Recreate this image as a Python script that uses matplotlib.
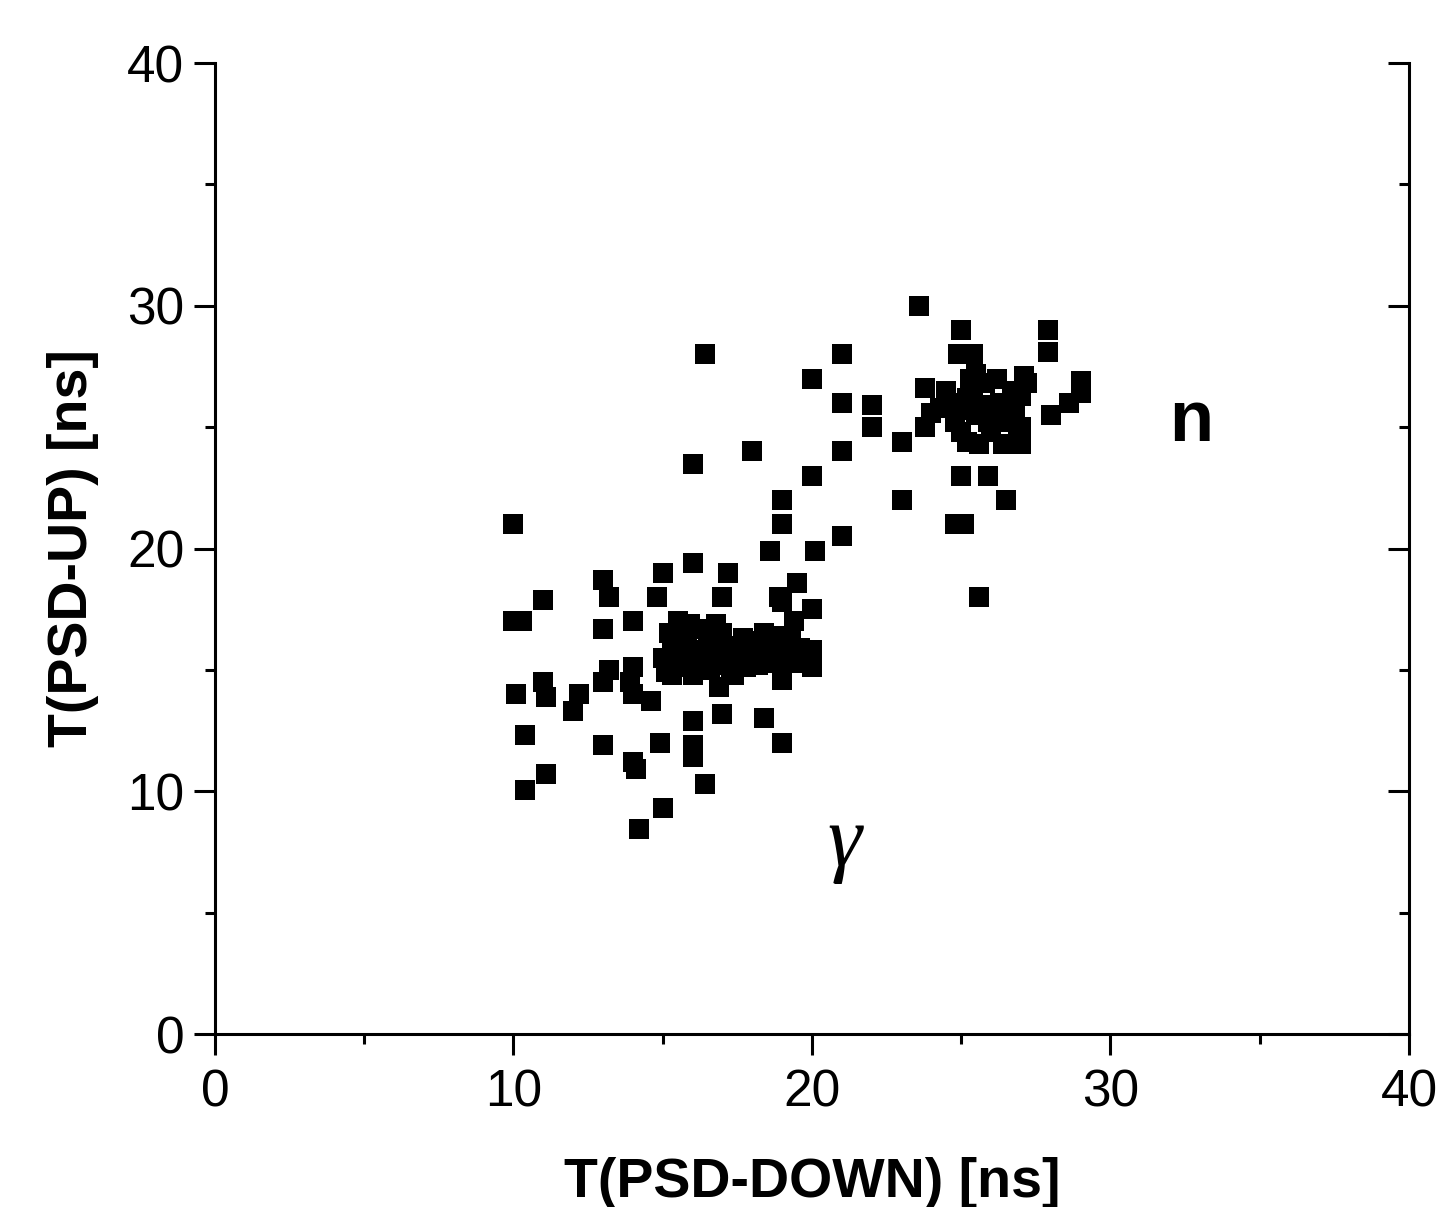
import matplotlib
matplotlib.use("Agg")
import matplotlib.pyplot as plt
from matplotlib.ticker import MultipleLocator

plt.rcParams['font.family'] = ['Liberation Sans', 'DejaVu Sans']

# Scattered gamma-region points (x, y)
gamma_x = [10, 10, 10.3, 11, 10.1, 11, 11.1, 10.4, 10.4, 11.1, 12.0, 12.2, 13, 13.2, 13, 13, 13, 13.2,
           14, 14.0, 14.0, 13.9, 14, 14.1, 14.2, 14.8, 15, 14.9, 15, 16, 16, 16, 16, 16.4, 17, 17.2, 17,
           18.4, 18.6, 18.9, 19.0, 19, 19, 19.5, 19.4, 20.1, 20, 19, 14.6, 16.4, 16, 18, 16.9]
gamma_y = [21, 17, 17, 17.9, 14, 14.5, 13.9, 12.3, 10.05, 10.7, 13.3, 14.0, 18.7, 18.0, 16.7, 14.5, 11.9, 15,
           17, 15.1, 14.0, 14.5, 11.2, 10.9, 8.45, 18, 19, 12, 9.3, 19.4, 12.9, 11.9, 11.4, 10.3, 18, 19, 13.2,
           13, 19.9, 18, 17.8, 22, 21, 18.6, 17, 19.9, 17.5, 12, 13.7, 28, 23.5, 24, 14.3]

# Dense gamma blob
blob_g_x = [15, 15.2, 15.3, 15.5, 15.5, 15.7, 15.8, 16, 16, 16.2, 16.3, 16.5, 16.6, 16.8, 17, 17, 17.2,
            17.4, 17.5, 17.7, 18, 18.2, 18.4, 18.5, 18.7, 19, 19.2, 19.5, 19.8, 20, 19, 15.4, 15.9, 16.6,
            17.3, 18.8, 19.6, 20, 15.1, 16.1, 17.8, 18.3, 15.6, 16.4, 17.1, 17.9, 18.6, 19.3, 15.3, 16.8]
blob_g_y = [15.5, 16.5, 14.8, 16, 17, 15.2, 16.4, 15.8, 14.8, 16.7, 15.4, 16.2, 15, 15.8, 16.5, 15.2, 16,
            14.8, 15.6, 16.3, 15.9, 15.2, 16.5, 15.5, 16, 15.2, 15.9, 15.3, 15.6, 15.8, 14.6, 15.1, 16.9, 16.4,
            15.1, 16.4, 15.9, 15.1, 14.9, 15.3, 15.1, 15.8, 15.6, 15.6, 15.9, 16.2, 15.3, 16.3, 16.1, 16.9]

# Scattered neutron-region points
neut_x = [20, 20, 21, 21, 21, 21, 22, 22, 23, 23, 23.6, 25.0, 27.9, 27.9, 24.9, 25.4, 29, 29, 28.6, 28,
          23.8, 24, 23.8, 25, 25.9, 26.5, 24.8, 25.1, 25.6, 27, 27, 27.1]
neut_y = [27, 23, 28, 26, 24, 20.5, 25.9, 25, 24.4, 22, 30, 29, 29, 28.1, 28, 28, 26.9, 26.4, 26, 25.5,
          26.6, 25.6, 25, 23, 23, 22, 21, 21, 18, 24.3, 25, 27.1]

# Dense neutron blob
blob_n_x = [24.5, 24.8, 25, 25.2, 25.3, 25.5, 25.6, 25.8, 26, 26, 26.2, 26.3, 26.5, 26.7, 26.9, 27, 27.2,
            25.5, 24.7, 25.9, 26.4, 25.2, 26.8, 27, 24.3, 25.7, 26.1, 25.4, 25.1, 26.6]
blob_n_y = [26.5, 25.2, 24.8, 26.2, 27, 25.5, 24.3, 26.8, 25.8, 24.8, 27, 26, 25.2, 26.5, 24.5, 26.3, 26.8,
            27.2, 26, 25.2, 24.3, 24.4, 25.6, 24.8, 25.8, 25.9, 25.4, 26.6, 25.7, 25.9]

xticks = [0, 10, 20, 30, 40]
yticks = [0, 10, 20, 30, 40]

fig = plt.figure(figsize=(14.36, 12.07), dpi=100)
ax = fig.add_axes([0.1497, 0.1433, 0.8315, 0.8045])

ms = 14.5
for xs, ys in [(gamma_x, gamma_y), (blob_g_x, blob_g_y), (neut_x, neut_y), (blob_n_x, blob_n_y)]:
    ax.plot(xs, ys, linestyle='none', marker='s', markersize=ms, color='black', markeredgewidth=0)

ax.set_xlim(0, 40)
ax.set_ylim(0, 40)
ax.set_xticks(xticks)
ax.set_yticks(yticks)
ax.xaxis.set_minor_locator(MultipleLocator(5))
ax.yaxis.set_minor_locator(MultipleLocator(5))

ax.spines['top'].set_visible(False)
for s in ['left', 'bottom', 'right']:
    ax.spines[s].set_linewidth(2.2)

ax.tick_params(axis='both', which='major', length=15, width=2.2, labelsize=37, direction='out', pad=7)
ax.tick_params(axis='x', which='major', pad=10)
ax.tick_params(axis='both', which='minor', length=7.5, width=2.2, direction='out')
ax.tick_params(axis='y', which='both', right=True, labelright=False)

# Right ticks point inward
for t in ax.yaxis.get_major_ticks() + ax.yaxis.get_minor_ticks():
    t.tick2line.set_marker(matplotlib.lines.TICKLEFT)

ax.set_xlabel('T(PSD-DOWN) [ns]', fontsize=40, fontweight='bold', labelpad=28)
ax.set_ylabel('T(PSD-UP) [ns]', fontsize=40, fontweight='bold', labelpad=20)

ax.text(21.1, 7.8, 'γ', fontsize=62, family=['Liberation Serif', 'DejaVu Serif'], style='italic',
        ha='center', va='center')
ax.text(32.7, 25.2, 'n', fontsize=52, fontweight='bold', ha='center', va='center')

fig.savefig('out.png', dpi=100)
